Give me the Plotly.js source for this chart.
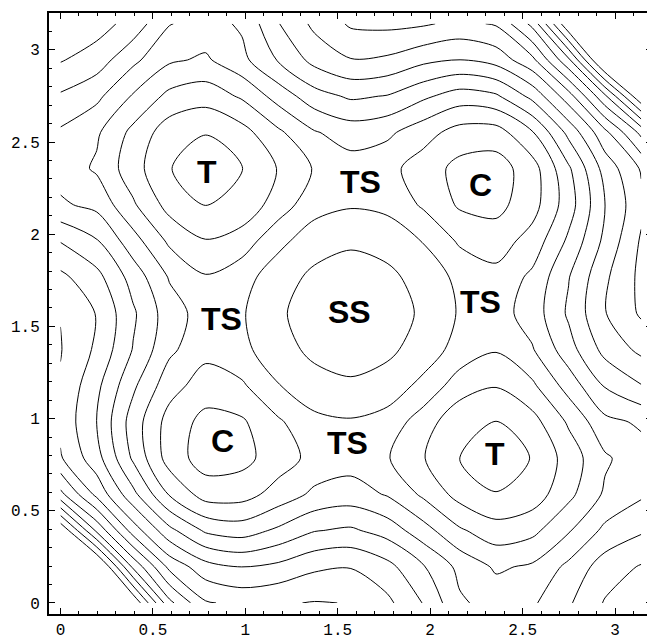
<!DOCTYPE html>
<html>
<head>
<meta charset="utf-8">
<script src="https://cdn.plot.ly/plotly-3.0.1.min.js"></script>
<style>html,body{margin:0;padding:0;overflow:hidden;background:#fff}</style>
</head>
<body>
<div id="chart" style="width:652px;height:639px"></div>
<script>
// grid of the two torsion angles (radians)
const xs = [0, 0.19635, 0.3927, 0.58905, 0.7854, 0.98175, 1.1781, 1.37445, 1.5708, 1.76715, 1.9635, 2.15985, 2.3562, 2.55255, 2.7489, 2.94525, 3.14159];
const ys = [0, 0.19635, 0.3927, 0.58905, 0.7854, 0.98175, 1.1781, 1.37445, 1.5708, 1.76715, 1.9635, 2.15985, 2.3562, 2.55255, 2.7489, 2.94525, 3.14159];

// energy values, one row per y value (estimated from the contour picture)
const zRow0  = [30.2, 22.05, 15.95, 11.28, 9.10, 8.75, 8.90, 9.05, 8.97, 8.24, 6.95, 5.15, 4.60, 4.85, 5.87, 7.08, 7.60];
const zRow1  = [22.05, 16.64, 11.79, 8.73, 7.38, 6.97, 7.24, 7.82, 7.95, 7.32, 6.08, 4.73, 3.85, 4.15, 5.24, 6.50, 7.08];
const zRow2  = [15.95, 11.79, 8.55, 6.29, 4.84, 4.53, 5.19, 5.95, 6.16, 5.59, 4.41, 3.14, 2.43, 2.73, 3.90, 5.24, 5.87];
const zRow3  = [11.28, 8.73, 6.29, 3.92, 2.55, 2.59, 3.40, 4.21, 4.45, 3.92, 2.81, 1.63, 1.04, 1.45, 2.73, 4.15, 4.85];
const zRow4  = [9.10, 7.38, 4.84, 2.55, 1.52, 1.69, 2.51, 3.31, 3.56, 3.08, 2.05, 0.98, 0.50, 1.04, 2.43, 3.85, 4.60];
const zRow5  = [8.75, 6.97, 4.53, 2.59, 1.69, 1.86, 2.85, 3.75, 3.90, 3.65, 2.45, 1.33, 0.98, 1.63, 3.14, 4.73, 5.15];
const zRow6  = [8.90, 7.24, 5.19, 3.40, 2.51, 2.85, 3.95, 4.60, 4.85, 4.50, 3.75, 2.45, 2.05, 2.81, 4.41, 6.08, 6.95];
const zRow7  = [9.05, 7.82, 5.95, 4.21, 3.31, 3.75, 4.60, 5.25, 5.45, 5.25, 4.50, 3.65, 3.08, 3.92, 5.59, 7.32, 8.24];
const zRow8  = [8.97, 7.95, 6.16, 4.45, 3.56, 3.90, 4.85, 5.45, 5.55, 5.45, 4.85, 3.90, 3.56, 4.45, 6.16, 7.95, 9.15];
const zRow9  = [8.24, 7.32, 5.59, 3.92, 3.08, 3.65, 4.50, 5.25, 5.45, 5.25, 4.60, 3.75, 3.31, 4.21, 5.95, 7.82, 9.25];
const zRow10 = [6.95, 6.08, 4.41, 2.81, 2.05, 2.45, 3.75, 4.50, 4.85, 4.60, 3.95, 2.85, 2.51, 3.40, 5.19, 7.24, 9.12];
const zRow11 = [5.15, 4.73, 3.14, 1.63, 0.98, 1.33, 2.45, 3.65, 3.90, 3.75, 2.85, 1.86, 1.69, 2.59, 4.53, 6.97, 8.75];
const zRow12 = [4.60, 3.85, 2.43, 1.04, 0.50, 0.98, 2.05, 3.08, 3.56, 3.31, 2.51, 1.69, 1.52, 2.55, 4.84, 7.38, 9.10];
const zRow13 = [4.85, 4.15, 2.73, 1.45, 1.04, 1.63, 2.81, 3.92, 4.45, 4.21, 3.40, 2.59, 2.55, 3.92, 6.29, 8.73, 11.28];
const zRow14 = [5.87, 5.24, 3.90, 2.73, 2.43, 3.14, 4.41, 5.59, 6.16, 5.95, 5.19, 4.53, 4.84, 6.29, 8.55, 11.79, 15.95];
const zRow15 = [7.08, 6.50, 5.24, 4.15, 3.85, 4.73, 6.08, 7.32, 7.95, 7.82, 7.24, 6.97, 7.38, 8.73, 11.79, 16.64, 22.05];
const zRow16 = [7.60, 7.45, 6.60, 5.05, 4.60, 5.15, 6.95, 8.24, 9.15, 9.25, 9.12, 8.75, 9.10, 11.28, 15.95, 22.05, 30.2];

// contour levels
const levelStart = 1, levelEnd = 15, levelStep = 1;

// point labels
const labelText = ['T', 'TS', 'C', 'TS', 'SS', 'TS', 'C', 'TS', 'T'];
const labelX    = [0.79, 1.625, 2.27, 0.87, 1.565, 2.27, 0.877, 1.554, 2.35];
const labelY    = [2.34, 2.285, 2.265, 1.54, 1.58, 1.635, 0.88, 0.87, 0.81];

const zGrid = [zRow0, zRow1, zRow2, zRow3, zRow4, zRow5, zRow6, zRow7, zRow8,
               zRow9, zRow10, zRow11, zRow12, zRow13, zRow14, zRow15, zRow16];

const trace = {
  type: 'contour',
  x: xs, y: ys, z: zGrid,
  autocontour: false,
  contours: {start: levelStart, end: levelEnd, size: levelStep, coloring: 'none', showlabels: false},
  line: {color: 'black', width: 1, smoothing: 0.85},
  showscale: false,
  hoverinfo: 'skip'
};

const tickFont = {family: '"Liberation Mono", "Courier New", monospace', size: 16, color: 'black'};
function axis(range) {
  return {
    range: range, tick0: 0, dtick: 0.5,
    ticks: 'inside', ticklen: 6, tickwidth: 1, tickcolor: 'black',
    showline: true, linecolor: 'black', linewidth: 2, mirror: 'ticks',
    showgrid: false, zeroline: false,
    tickfont: tickFont,
    minor: {ticks: 'inside', dtick: 0.1, ticklen: 3, tickwidth: 1, tickcolor: 'black', showgrid: false}
  };
}

const xa = axis([-0.062, 3.2]); xa.ticklabelstandoff = 0;
const ya = axis([-0.06, 3.2]);  ya.ticklabelstandoff = 4;

const annotations = labelText.map((t, k) => ({
  x: labelX[k], y: labelY[k], xref: 'x', yref: 'y', text: t, showarrow: false,
  font: {family: '"Liberation Sans", Arial, Helvetica, sans-serif', size: 32, color: 'black', weight: 'bold'}
}));

const layout = {
  width: 652, height: 639,
  margin: {l: 49, r: 0, t: 13, b: 25, pad: 0},
  paper_bgcolor: 'white', plot_bgcolor: 'white',
  showlegend: false,
  xaxis: xa, yaxis: ya,
  annotations: annotations
};

Plotly.newPlot('chart', [trace], layout, {staticPlot: true, displayModeBar: false});
</script>
</body>
</html>
